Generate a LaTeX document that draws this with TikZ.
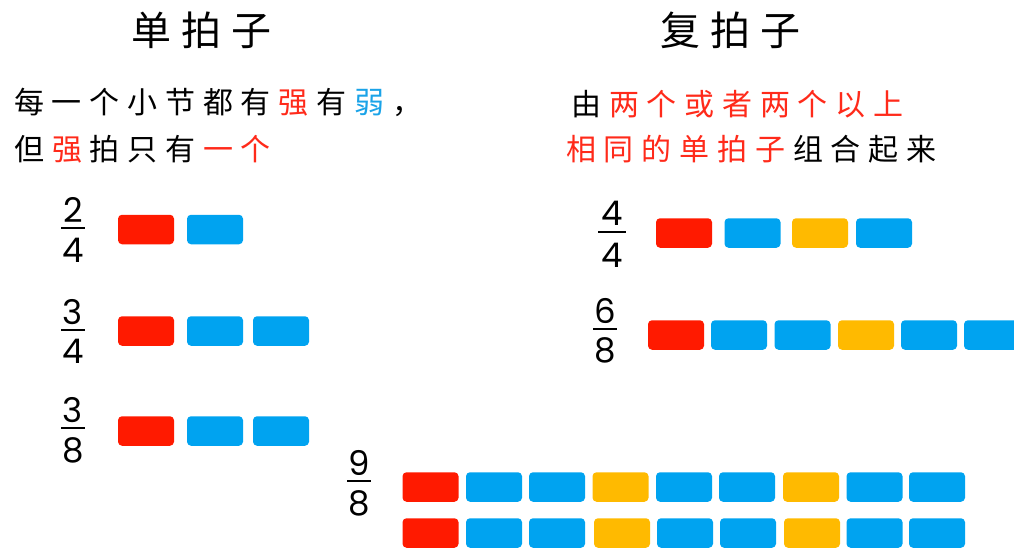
\documentclass[tikz,border=0pt]{standalone}
\usepackage{fontspec}
\newfontfamily\cjk{Noto Sans CJK SC}
\newfontfamily\digitfont{Poppins}
\definecolor{beatred}{HTML}{FF1A00}
\definecolor{beatblue}{HTML}{00A3F0}
\definecolor{beatyellow}{HTML}{FFBA00}
\definecolor{txtred}{HTML}{FF2A1A}
\definecolor{txtblue}{HTML}{1AA3E8}
\newcommand\gp{\hspace{7.8pt}}
\begin{document}
\begin{tikzpicture}[x=1pt,y=-1pt,
  beat/.style={draw=none, rounded corners=4pt, minimum width=56pt, minimum height=29.5pt, inner sep=0pt},
  strong/.style={beat, fill=beatred},
  weak/.style={beat, fill=beatblue},
  sub/.style={beat, fill=beatyellow},
  titletext/.style={anchor=west, inner sep=0pt, font=\cjk\fontsize{40}{40}\selectfont\addfontfeature{LetterSpace=25}},
  bodytext/.style={anchor=west, inner sep=0pt, font=\cjk\fontsize{30}{30}\selectfont\addfontfeature{LetterSpace=26}},
  digit/.style={inner sep=0pt, font=\digitfont\fontsize{34}{34}\selectfont},
  fracbar/.style={line width=1.8pt}
]
\useasboundingbox (0,0) rectangle (1014,549);
\clip (0,0) rectangle (1014,549);

% titles
\node[titletext] (t1) at (131,30) {单拍子};
\node[titletext] (t2) at (660,30) {复拍子};

% left description
\node[bodytext] (l1) at (14,102) {每一个小节都有\gp{\color{txtred}强}\gp 有\gp{\color{txtblue}弱}\gp，};
\node[bodytext] (l2) at (14,149) {但\gp{\color{txtred}强}\gp 拍只有\gp{\color{txtred}一个}};

% right description
\node[bodytext] (r1) at (571,104) {由\gp{\color{txtred}两个或者两个以上}};
\node[bodytext] (r2) at (566,149) {{\color{txtred}相同的单拍子}\gp 组合起来};

% fractions
\node[digit] (n24) at (73,210) {2};
\node[digit] (d24) at (73,250) {4};
\draw[fracbar] (61,228) -- (85,228);
\node[digit] (n34) at (73,312.5) {3};
\node[digit] (d34) at (73,351.5) {4};
\draw[fracbar] (61,330) -- (85,330);
\node[digit] (n38) at (73,410) {3};
\node[digit] (d38) at (73,450) {8};
\draw[fracbar] (61,428) -- (85,428);

\node[digit] (n44) at (612,213) {4};
\node[digit] (d44) at (612,255) {4};
\draw[fracbar] (598,232) -- (626,232);
\node[digit] (n68) at (605,311) {6};
\node[digit] (d68) at (605,350) {8};
\draw[fracbar] (593,329) -- (617,329);
\node[digit] (n98) at (359,463) {9};
\node[digit] (d98) at (359,503) {8};
\draw[fracbar] (347,481) -- (371,481);

% left rows
\node[strong] (a1) at (146,229.5) {};
\node[weak]   (a2) at (215,229.5) {};
\node[strong] (b1) at (146,331) {};
\node[weak]   (b2) at (215,331) {};
\node[weak]   (b3) at (281,331) {};
\node[strong] (c1) at (146,431) {};
\node[weak]   (c2) at (215,431) {};
\node[weak]   (c3) at (281,431) {};

% 4/4
\node[strong] (d1) at (684,233) {};
\node[weak]   (d2) at (752.5,233) {};
\node[sub]    (d3) at (820,233) {};
\node[weak]   (d4) at (884,233) {};

% 6/8
\node[strong] (e1) at (676,335) {};
\node[weak]   (e2) at (739,335) {};
\node[weak]   (e3) at (802.5,335) {};
\node[sub]    (e4) at (866,335) {};
\node[weak]   (e5) at (929,335) {};
\node[weak]   (e6) at (992,335) {};

% 9/8 row 1
\node[strong] (f1) at (430.5,487) {};
\node[weak]   (f2) at (494,487) {};
\node[weak]   (f3) at (557,487) {};
\node[sub]    (f4) at (620.5,487) {};
\node[weak]   (f5) at (684,487) {};
\node[weak]   (f6) at (747,487) {};
\node[sub]    (f7) at (811,487) {};
\node[weak]   (f8) at (874.5,487) {};
\node[weak]   (f9) at (937,487) {};

% 9/8 row 2
\node[strong] (g1) at (430.5,533) {};
\node[weak]   (g2) at (494,533) {};
\node[weak]   (g3) at (557,533) {};
\node[sub]    (g4) at (622,533) {};
\node[weak]   (g5) at (685,533) {};
\node[weak]   (g6) at (748,533) {};
\node[sub]    (g7) at (812,533) {};
\node[weak]   (g8) at (874.5,533) {};
\node[weak]   (g9) at (937,533) {};
\end{tikzpicture}
\end{document}
